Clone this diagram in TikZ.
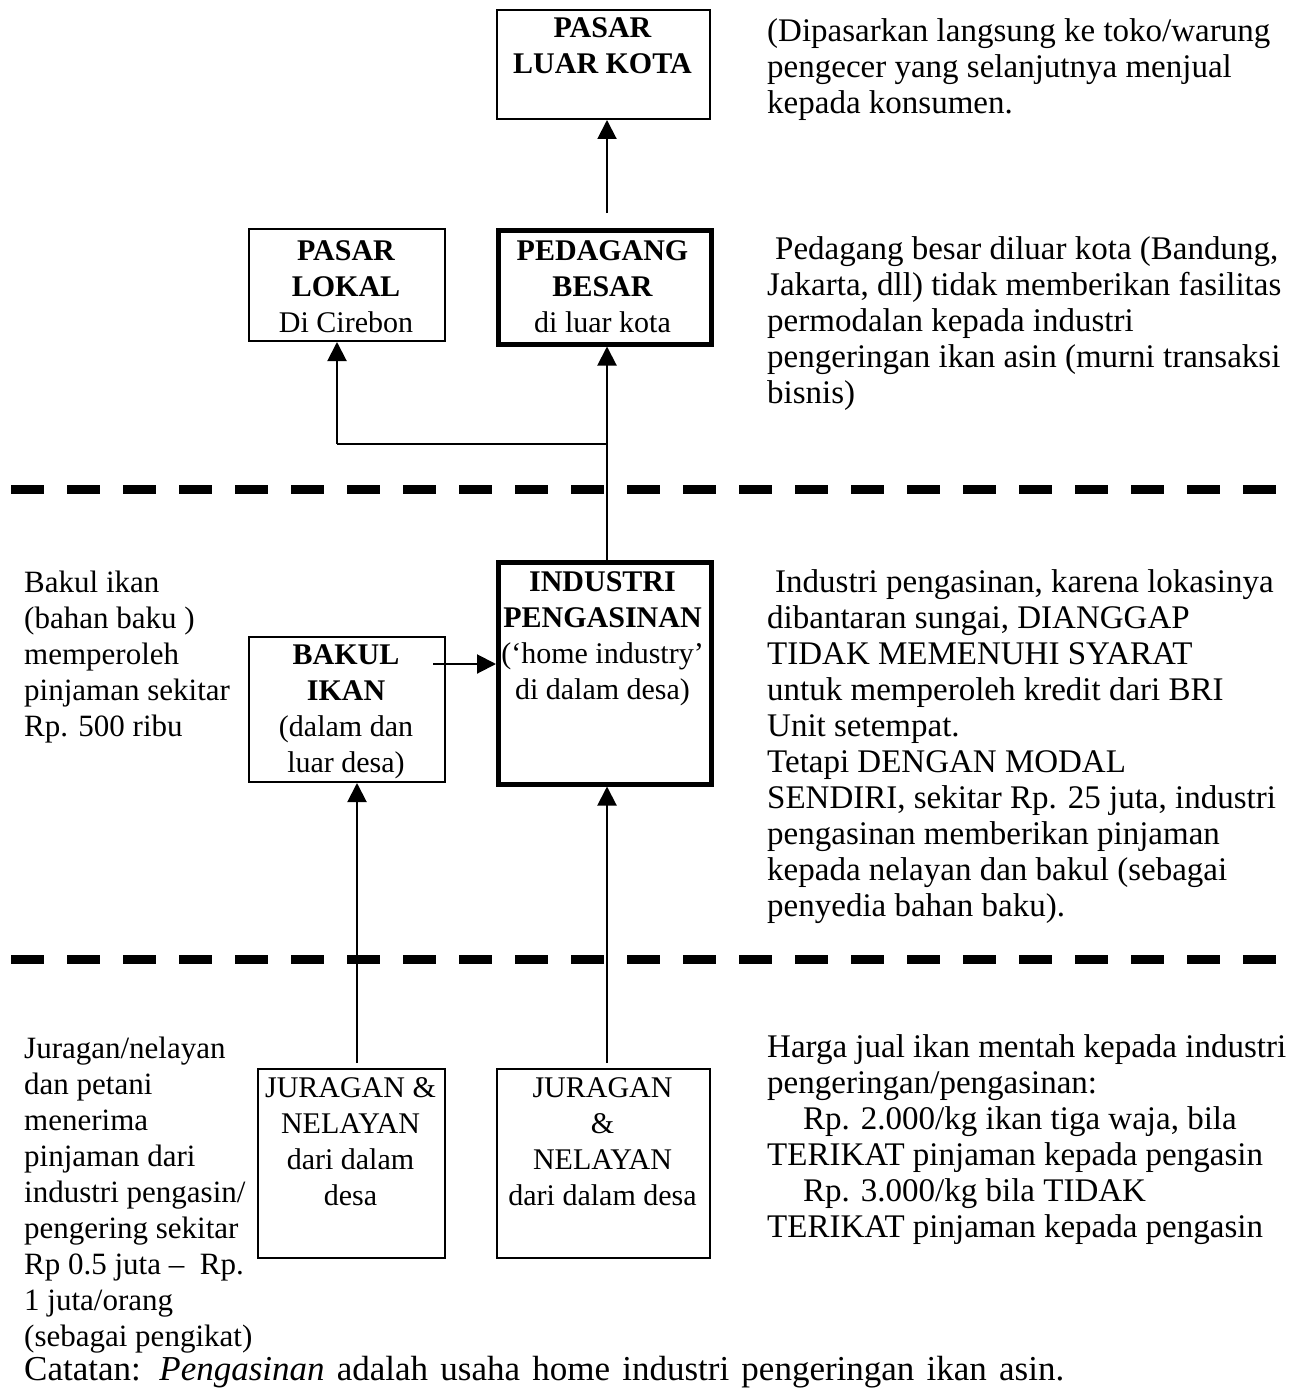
\documentclass[tikz,border=0pt]{standalone}
\usepackage{fontspec}
\setmainfont{Liberation Serif}
\usetikzlibrary{arrows.meta}
\newcommand\bodysz{\fontsize{33}{36}\selectfont}
\newcommand\leftsz{\fontsize{31}{36}\selectfont}
\newcommand\boxsz{\fontsize{30}{36}\selectfont}
\newcommand\bsz{\fontsize{30}{36}\selectfont\bfseries}
\tikzset{
  x=1pt, y=-1pt,
  box/.style={draw, line width=2pt, inner sep=0pt, anchor=north west},
  thickbox/.style={box, line width=4.5pt},
  boxtext/.style={anchor=north, inner sep=0pt, align=center, font=\boxsz},
  sidetext/.style={anchor=north west, inner sep=0pt, align=left, font=\bodysz},
  lefttext/.style={sidetext, font=\leftsz},
  flow/.style={line width=2pt, -{Triangle[length=19pt,width=19pt]}},
  plain/.style={line width=2pt},
  divider/.style={line width=9pt, dash pattern=on 33pt off 23pt},
}
\begin{document}
\begin{tikzpicture}
\useasboundingbox (0,0) rectangle (1304,1391);

% ---- boxes (drawn empty, labels placed inside from the top)
\node[box, minimum width=213pt, minimum height=109pt] (luar) at (496,9) {};
\node[box, minimum width=196pt, minimum height=112pt] (lokal) at (248,228) {};
\node[thickbox, minimum width=213pt, minimum height=114pt] (besar) at (496,228) {};
\node[thickbox, minimum width=213pt, minimum height=222pt] (ind) at (496,560) {};
\node[box, minimum width=196pt, minimum height=145pt] (bakul) at (248,636) {};
\node[box, minimum width=187pt, minimum height=189pt] (jur1) at (257,1068) {};
\node[box, minimum width=213pt, minimum height=189pt] (jur2) at (496,1068) {};

% ---- box labels
\node[boxtext] (tluar) at (602.5,11.8) {\strut{\bsz PASAR}\\{\bsz LUAR KOTA}};
\node[boxtext] (tlokal) at (346,234.8) {\strut{\bsz PASAR}\\{\bsz LOKAL}\\Di Cirebon};
\node[boxtext] (tbesar) at (602.5,234.8) {\strut{\bsz PEDAGANG}\\{\bsz BESAR}\\di luar kota};
\node[boxtext] (tind) at (602.5,565.8) {\strut{\bsz INDUSTRI}\\{\bsz PENGASINAN}\\(‘home industry’\\di dalam desa)};
\node[boxtext] (tbakul) at (346,638.8) {\strut{\bsz BAKUL}\\{\bsz IKAN}\\(dalam dan\\luar desa)};
\node[boxtext] (tjur1) at (350.5,1071.8) {\strut JURAGAN \&\\NELAYAN\\dari dalam\\desa};
\node[boxtext] (tjur2) at (602.5,1071.8) {\strut JURAGAN\\\&\\NELAYAN\\dari dalam desa};

% ---- level dividers
\draw[divider] (11,489.5) -- (1276,489.5);
\draw[divider] (11,959) -- (1276,959);

% ---- flows
\coordinate (topstub) at (607,213);
\coordinate (split) at (607,444);
\coordinate (lokalin) at (337,444);
\coordinate (bakulout) at (433,664);

\draw[flow] (topstub) -- (topstub |- luar.south);
\draw[flow] (ind.north -| split) -- (besar.south -| split);
\draw[plain] (split) -- (lokalin);
\draw[flow] (lokalin) -- (lokalin |- lokal.south);
\draw[flow] (bakulout) -- (bakulout -| ind.west);
\draw[flow] ([yshift=5pt]jur1.north -| 357,0) -- (bakul.south -| 357,0);
\draw[flow] ([yshift=5pt]jur2.north -| 607,0) -- (ind.south -| 607,0);

% ---- notes, right column
\node[sidetext] (n1) at (767,15.8) {\strut(Dipasarkan langsung ke toko/warung\\pengecer yang selanjutnya menjual\\kepada konsumen.};
\node[sidetext] (n2) at (767,233.8) {\strut\hspace{8pt}Pedagang besar diluar kota (Bandung,\\Jakarta, dll) tidak memberikan fasilitas\\permodalan kepada industri\\pengeringan ikan asin (murni transaksi\\bisnis)};
\node[sidetext] (n3) at (767,566.8) {\strut\hspace{8pt}Industri pengasinan, karena lokasinya\\dibantaran sungai, DIANGGAP\\TIDAK MEMENUHI SYARAT\\untuk memperoleh kredit dari BRI\\Unit setempat.\\Tetapi DENGAN MODAL\\SENDIRI, sekitar Rp. 25 juta, industri\\pengasinan memberikan pinjaman\\kepada nelayan dan bakul (sebagai\\penyedia bahan baku).};
\node[sidetext] (n4) at (767,1031.8) {\strut Harga jual ikan mentah kepada industri\\pengeringan/pengasinan:\\\hspace{36pt}Rp. 2.000/kg ikan tiga waja, bila\\TERIKAT pinjaman kepada pengasin\\\hspace{36pt}Rp. 3.000/kg bila TIDAK\\TERIKAT pinjaman kepada pengasin};

% ---- notes, left column
\node[lefttext] (n5) at (24,566.8) {\strut Bakul ikan\\(bahan baku )\\memperoleh\\pinjaman sekitar\\Rp. 500 ribu};
\node[lefttext] (n6) at (24,1032.8) {\strut Juragan/nelayan\\dan petani\\menerima\\pinjaman dari\\industri pengasin/\\pengering sekitar\\Rp 0.5 juta –\ \ Rp.\\1 juta/orang\\(sebagai pengikat)};

% ---- footnote line
\node[anchor=base west, inner sep=0pt, font=\fontsize{35}{36}\selectfont] (note) at (24,1380)
  {\makebox[1040pt][s]{Catatan: \textit{Pengasinan} adalah usaha home industri pengeringan ikan asin.}};
\end{tikzpicture}
\end{document}
